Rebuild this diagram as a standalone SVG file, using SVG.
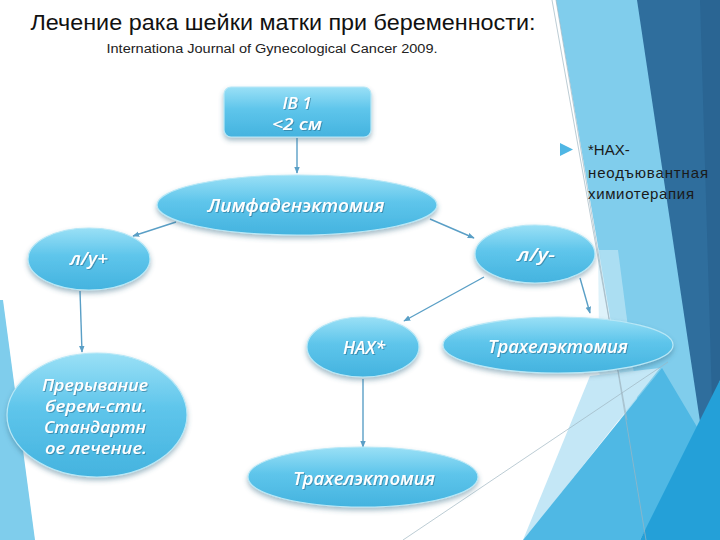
<svg xmlns="http://www.w3.org/2000/svg" width="720" height="540" viewBox="0 0 720 540">
<defs>
<linearGradient id="ng" x1="0" y1="0" x2="0" y2="1">
<stop offset="0" stop-color="#9ae0f6"/>
<stop offset="0.45" stop-color="#5ec5eb"/>
<stop offset="1" stop-color="#44b3df"/>
</linearGradient>
<filter id="sh" x="-20%" y="-20%" width="140%" height="150%">
<feDropShadow dx="0" dy="3" stdDeviation="2.5" flood-color="#3a6f88" flood-opacity="0.45"/>
</filter>
<filter id="ts" x="-10%" y="-30%" width="120%" height="160%">
<feDropShadow dx="1" dy="1" stdDeviation="0.6" flood-color="#2a6f90" flood-opacity="0.6"/>
</filter>
<marker id="ah" viewBox="0 0 10 10" refX="9" refY="5" markerWidth="7" markerHeight="7" orient="auto" markerUnits="userSpaceOnUse">
<path d="M0,1 L10,5 L0,9 z" fill="#5a9fc6"/>
</marker>
<style>
.node{fill:url(#ng);stroke:#b8e8f7;stroke-width:1.2;filter:url(#sh)}
.nt{font-family:"Open Sans","DejaVu Sans",sans-serif;font-style:italic;font-weight:600;fill:#ffffff;text-anchor:middle;filter:url(#ts)}
.cn{stroke:#5a9fc6;stroke-width:1.4;fill:none;marker-end:url(#ah)}
.thin{stroke:#9fb6c2;stroke-width:0.7;fill:none}
</style>
</defs>
<rect width="720" height="540" fill="#ffffff"/>
<g id="background">
<polygon points="556,0 720,0 720,540 648,540" fill="#80cdec"/>
<polygon points="598,250 618,250 640,420 600,420" fill="#c8e9f7" opacity="0.6"/>
<polygon points="637,0 720,0 720,380 702,435" fill="#2f6e9d"/>
<polygon points="700,0 720,0 720,380 712,400" fill="#2a6593"/>
<polygon points="590,376 660,368 540,520 523,540" fill="#c4e7f6"/>
<polygon points="523,540 662,368 700,432 640,540" fill="#4fb8e4"/>
<polygon points="640,540 720,380 720,540" fill="#24a0d8"/>
<polygon points="0,300 3,300 35,540 0,540" fill="#7fcdec"/>
<line class="thin" x1="556" y1="0" x2="646" y2="540"/>
<line class="thin" x1="552" y1="0" x2="627" y2="420"/>
<line class="thin" x1="403" y1="540" x2="668" y2="362"/>
</g>
<g id="title">
<text x="283" y="30" font-family="Liberation Sans, Arial, sans-serif" font-size="22" fill="#111" text-anchor="middle" textLength="505" lengthAdjust="spacingAndGlyphs">Лечение рака шейки матки при беременности:</text>
<text x="272" y="53" font-family="Liberation Sans, Arial, sans-serif" font-size="12.5" fill="#222" text-anchor="middle" textLength="331" lengthAdjust="spacingAndGlyphs">Internationa Journal of Gynecological Cancer 2009.</text>
</g>
<g id="note">
<polygon points="560,143 573,149.5 560,156" fill="#4fb6e4"/>
<text font-family="Liberation Sans, Arial, sans-serif" font-size="15" fill="#1a1a1a">
<tspan x="588" y="155">*НАХ-</tspan>
<tspan x="588" y="178" textLength="120" lengthAdjust="spacing">неодъювантная</tspan>
<tspan x="588" y="199" textLength="106" lengthAdjust="spacing">химиотерапия</tspan>
</text>
</g>
<g id="connectors">
<line class="cn" x1="297" y1="138" x2="297" y2="173"/>
<line class="cn" x1="176" y1="222" x2="133" y2="236"/>
<line class="cn" x1="430" y1="219" x2="474" y2="238"/>
<line class="cn" x1="80" y1="291" x2="82" y2="352"/>
<line class="cn" x1="484" y1="277" x2="404" y2="321"/>
<line class="cn" x1="580" y1="278" x2="590" y2="313"/>
<line class="cn" x1="363" y1="379" x2="363" y2="447"/>
</g>
<g id="n-ib1">
<rect class="node" x="224" y="87" width="147" height="50" rx="7"/>
<text class="nt" x="297" y="109" font-size="17">IB 1</text>
<text class="nt" x="297" y="130" font-size="17" textLength="50" lengthAdjust="spacingAndGlyphs">&lt;2 см</text>
</g>
<g id="n-lymph">
<ellipse class="node" cx="297" cy="205" rx="140" ry="30"/>
<text class="nt" x="296" y="212" font-size="18" textLength="177" lengthAdjust="spacingAndGlyphs">Лимфаденэктомия</text>
</g>
<g id="n-lplus">
<ellipse class="node" cx="89" cy="259" rx="61" ry="31"/>
<text class="nt" x="89" y="265" font-size="18" textLength="38" lengthAdjust="spacingAndGlyphs">л/у+</text>
</g>
<g id="n-lminus">
<ellipse class="node" cx="535" cy="254" rx="60" ry="29"/>
<text class="nt" x="536" y="261" font-size="18" textLength="38" lengthAdjust="spacingAndGlyphs">л/у-</text>
</g>
<g id="n-nax">
<ellipse class="node" cx="363" cy="347" rx="56" ry="30"/>
<text class="nt" x="364" y="354" font-size="18" textLength="42" lengthAdjust="spacingAndGlyphs">НАХ*</text>
</g>
<g id="n-trach1">
<ellipse class="node" cx="558" cy="345" rx="115" ry="28"/>
<text class="nt" x="558" y="353" font-size="18" textLength="140" lengthAdjust="spacingAndGlyphs">Трахелэктомия</text>
</g>
<g id="n-abort">
<ellipse class="node" cx="97" cy="415" rx="90" ry="62"/>
<text class="nt" x="95" y="391" font-size="17" textLength="106" lengthAdjust="spacingAndGlyphs">Прерывание</text>
<text class="nt" x="96" y="412" font-size="17" textLength="102" lengthAdjust="spacingAndGlyphs">берем-сти.</text>
<text class="nt" x="95" y="433" font-size="17" textLength="102" lengthAdjust="spacingAndGlyphs">Стандартн</text>
<text class="nt" x="96" y="454" font-size="17" textLength="102" lengthAdjust="spacingAndGlyphs">ое лечение.</text>
</g>
<g id="n-trach2">
<ellipse class="node" cx="363" cy="477" rx="115" ry="30"/>
<text class="nt" x="364" y="485" font-size="18" textLength="142" lengthAdjust="spacingAndGlyphs">Трахелэктомия</text>
</g>
</svg>
